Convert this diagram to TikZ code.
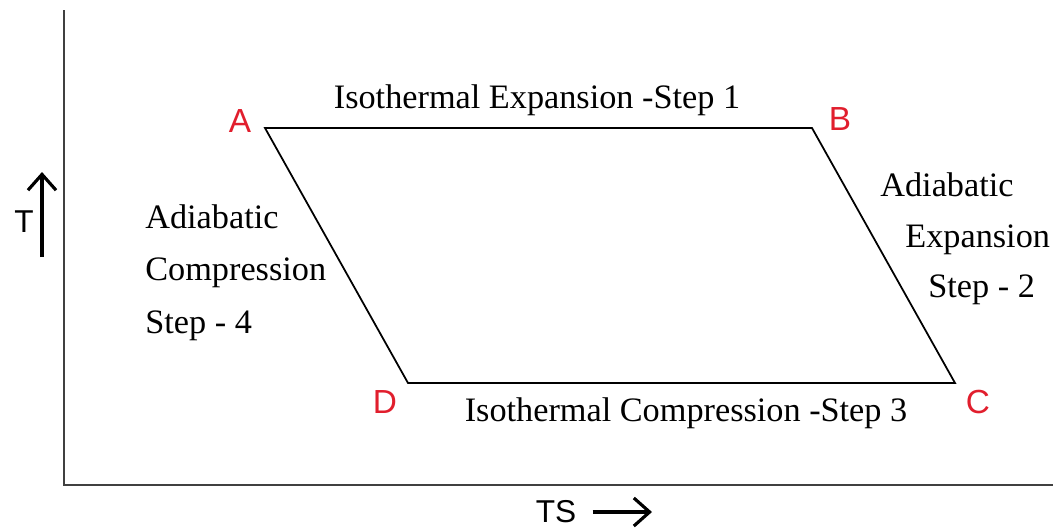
\documentclass[tikz,border=0pt]{standalone}
\usepackage{fontspec}
\setmainfont{Liberation Serif}
\newfontfamily\lblfont{Liberation Sans}
\usetikzlibrary{calc, arrows.meta}
\definecolor{ptred}{RGB}{225,30,45}
\begin{document}
\begin{tikzpicture}[x=0.02cm,y=-0.02cm]
			\tikzset{corner/.style={text=ptred, font=\lblfont\fontsize{19}{19}\selectfont, inner sep=0pt}}
			\tikzset{steptext/.style={font=\fontsize{19.5}{30}\selectfont, inner sep=0pt}}
			\tikzset{axislbl/.style={font=\lblfont\fontsize{18}{18}\selectfont, inner sep=0pt}}
			\useasboundingbox (0,0) rectangle (1053,528);
			% axes
			\coordinate (ytop) at (64,10);
			\coordinate (origin) at (64,485);
			\coordinate (xend) at (1053,485);
			\draw[line width=0.9pt, black!75] (ytop) -- (origin) -- (xend);
			% cycle corners
			\coordinate (A) at (265,128);
			\coordinate (B) at (812,128);
			\coordinate (C) at (955,383);
			\coordinate (D) at (408,383);
			\draw[line width=1pt] (A) -- (B) -- (C) -- (D) -- cycle;
			\node[corner] (lblA) at (240,121) {A};
			\node[corner] (lblB) at (840,119) {B};
			\node[corner] (lblC) at (978,402) {C};
			\node[corner] (lblD) at (385,402) {D};
			% steps
			\node[steptext] (step1) at (537,100) {Isothermal Expansion -Step 1};
			\node[steptext] (step3) at (686,413) {Isothermal Compression -Step 3};
			\node[steptext, align=left, anchor=north west] (step4) at (145,204) {Adiabatic\\Compression\\Step - 4};
			\node[steptext, anchor=west] (step2a) at (880,185) {Adiabatic};
			\node[steptext, anchor=west] (step2b) at (905,240) {Expansion};
			\node[steptext, anchor=west] (step2c) at (928,290) {Step - 2};
			% axis labels
			\node[axislbl] (tlbl) at (24,222) {T};
			\coordinate (tlow) at (42,257);
			\coordinate (thigh) at (42,172);
			\draw[line width=1.8pt, -{Straight Barb[length=9pt,width=16pt]}] (tlow) -- (thigh);
			\node[axislbl] (tslbl) at (556,512) {TS};
			\coordinate (tsend) at (652,512);
			\draw[line width=1.8pt, -{Straight Barb[length=9pt,width=16pt]}] ($(tslbl.east)+(16,0)$) -- (tsend);
\end{tikzpicture}
\end{document}
